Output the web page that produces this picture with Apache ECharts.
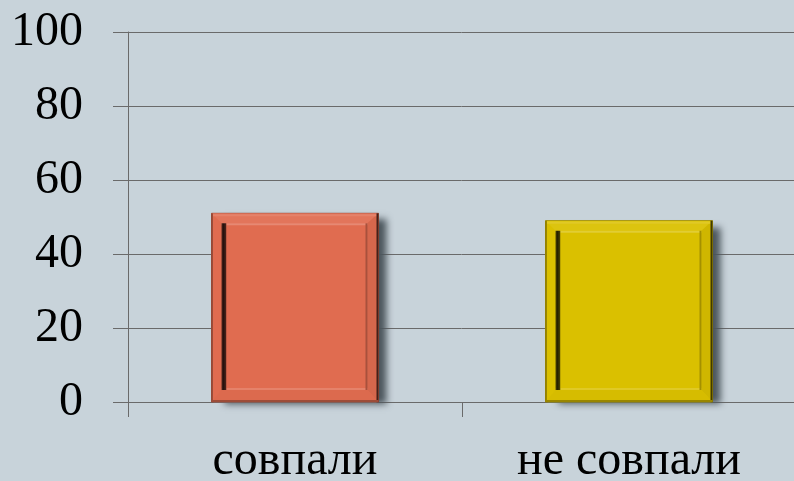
<!DOCTYPE html>
<html>
<head>
<meta charset="utf-8">
<script src="https://cdn.jsdelivr.net/npm/echarts@6/dist/echarts.min.js"></script>
<style>
  html, body { margin: 0; padding: 0; background: #c8d3da; }
  #chart { width: 794px; height: 481px; }
</style>
</head>
<body>
<div id="chart"></div>
<script>
// Share of answers (percent)
const categories = ['совпали', 'не совпали'];
const values = [51, 49];
const barColors = ['#e06c50', '#dac000'];
const yTicks = [0, 20, 40, 60, 80, 100];

function mix(hex, target, t) {
  const a = parseInt(hex.slice(1), 16);
  const r = (a >> 16) & 255, g = (a >> 8) & 255, b = a & 255;
  const tr = target === 'white' ? 255 : 0;
  const f = c => Math.round(c + (tr - c) * t);
  return 'rgb(' + f(r) + ',' + f(g) + ',' + f(b) + ')';
}

// Bevelled bar: outer frame, recessed inner panel and a soft drop shadow
function renderBar(params, api) {
  const idx = api.value(0);
  const top = api.coord([idx, api.value(1)]);
  const base = api.coord([idx, 0]);
  const bw = api.size([1, 0])[0] * 0.5;
  const x = top[0] - bw / 2, y = top[1], w = bw, h = base[1] - top[1];
  const c = barColors[idx];
  const children = [];

  // drop shadow (body drawn over it, only the offset blur stays visible)
  children.push({
    type: 'rect', shape: { x: x + 2, y: y + 5, width: w - 4, height: h - 4 },
    style: { fill: '#6f7a81', shadowColor: 'rgba(75,85,92,1)', shadowBlur: 7, shadowOffsetX: 10, shadowOffsetY: 1 },
    z2: 0
  });
  // outer body
  children.push({
    type: 'rect', shape: { x: x, y: y, width: w, height: h },
    style: { fill: c, stroke: mix(c, 'black', 0.35), lineWidth: 1 }, z2: 1
  });
  const l = 10, t = 10, r = 11, b = 12;
  // frame bands
  children.push({ type: 'polygon', shape: { points: [[x, y], [x + w, y], [x + w - r, y + t], [x + l, y + t]] },
    style: { fill: mix(c, 'white', 0.06) }, z2: 2 });
  children.push({ type: 'polygon', shape: { points: [[x + w, y], [x + w, y + h], [x + w - r, y + h - b], [x + w - r, y + t]] },
    style: { fill: mix(c, 'black', 0.05) }, z2: 2 });
  children.push({ type: 'polygon', shape: { points: [[x, y + h], [x + w, y + h], [x + w - r, y + h - b], [x + l, y + h - b]] },
    style: { fill: mix(c, 'black', 0.02) }, z2: 2 });
  // outer edge highlights / shades
  children.push({ type: 'rect', shape: { x: x + 1, y: y + 1, width: w - 2, height: 2 }, style: { fill: mix(c, 'white', 0.15) }, z2: 3 });
  children.push({ type: 'rect', shape: { x: x + w - 2, y: y, width: 2, height: h }, style: { fill: mix(c, 'black', 0.7) }, z2: 3 });
  children.push({ type: 'rect', shape: { x: x, y: y + h - 2, width: w, height: 2 }, style: { fill: mix(c, 'black', 0.3) }, z2: 3 });
  children.push({ type: 'rect', shape: { x: x, y: y, width: 1.5, height: h }, style: { fill: mix(c, 'black', 0.3) }, z2: 3 });

  // inner recessed panel
  const ix = x + l, iy = y + t, iw = w - l - r, ih = h - t - b;
  children.push({ type: 'rect', shape: { x: ix, y: iy, width: iw, height: ih }, style: { fill: c }, z2: 4 });
  children.push({ type: 'rect', shape: { x: ix, y: iy, width: iw, height: 2 }, style: { fill: mix(c, 'white', 0.2) }, z2: 5 });
  children.push({ type: 'rect', shape: { x: ix, y: iy + ih - 2, width: iw, height: 2 }, style: { fill: mix(c, 'white', 0.15) }, z2: 5 });
  children.push({ type: 'rect', shape: { x: ix + iw - 2, y: iy, width: 2, height: ih }, style: { fill: mix(c, 'black', 0.25) }, z2: 5 });
  children.push({
    type: 'rect', shape: { x: ix, y: iy, width: 5, height: ih },
    style: { fill: new echarts.graphic.LinearGradient(0, 0, 1, 0, [
      { offset: 0, color: mix(c, 'black', 0.6) },
      { offset: 0.35, color: mix(c, 'black', 0.85) },
      { offset: 0.8, color: mix(c, 'black', 0.7) },
      { offset: 1, color: mix(c, 'black', 0.3) }
    ]) }, z2: 6
  });

  return { type: 'group', children: children };
}

const chart = echarts.init(document.getElementById('chart'), null, { renderer: 'canvas' });
const axisColor = '#6a6a6a';
const font = "'Liberation Serif', 'Times New Roman', serif";

chart.setOption({
  backgroundColor: '#c8d3da',
  animation: false,
  grid: { left: 128, top: 32, width: 668, height: 370, containLabel: false, outerBoundsMode: 'none' },
  xAxis: {
    type: 'category',
    data: categories,
    boundaryGap: true,
    axisLine: { show: true, lineStyle: { color: axisColor, width: 1 } },
    axisTick: { show: true, length: 15, alignWithLabel: false, lineStyle: { color: axisColor } },
    axisLabel: { color: '#000', fontFamily: font, fontSize: 48, margin: 35, interval: 0 },
    splitLine: { show: false }
  },
  yAxis: {
    type: 'value',
    min: yTicks[0],
    max: yTicks[yTicks.length - 1],
    interval: yTicks[1] - yTicks[0],
    axisLine: { show: true, lineStyle: { color: axisColor, width: 1 } },
    axisTick: { show: true, length: 15, lineStyle: { color: axisColor } },
    axisLabel: { color: '#000', fontFamily: font, fontSize: 48, margin: 45 },
    splitLine: { show: true, lineStyle: { color: axisColor, width: 1 } }
  },
  series: [{
    type: 'custom',
    renderItem: renderBar,
    data: values.map((v, i) => [i, v]),
    encode: { x: 0, y: 1 },
    clip: false
  }]
});
</script>
</body>
</html>
